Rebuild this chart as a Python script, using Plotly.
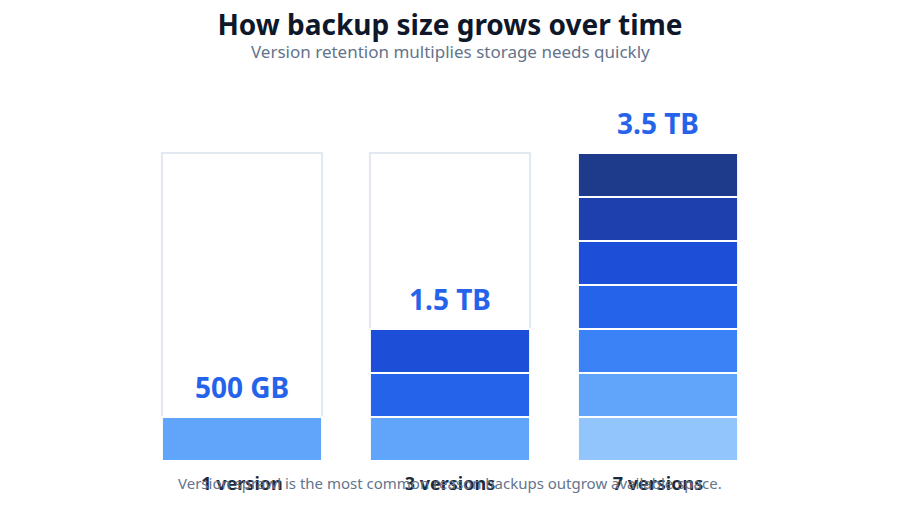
import plotly.graph_objects as go

categories = ["1 version", "3 versions", "7 versions"]
version_counts = [1, 3, 7]
segment_size_gb = 500
capacity_gb = 3500
value_labels = ["500 GB", "1.5 TB", "3.5 TB"]
segment_colors = [
    ["#60a5fa"],
    ["#60a5fa", "#2563eb", "#1d4ed8"],
    ["#93c5fd", "#60a5fa", "#3b82f6", "#2563eb", "#1d4ed8", "#1e40af", "#1e3a8a"],
]

FONT = "Noto Sans"
fig = go.Figure()

# container outlines
fig.add_trace(go.Bar(
    x=categories, y=[capacity_gb] * len(categories), base=0,
    marker=dict(color="white", line=dict(color="#e2e8f0", width=2)),
    width=0.77, hoverinfo="skip", showlegend=False,
))

max_levels = max(version_counts)
for lvl in range(max_levels):
    xs, cols = [], []
    for cat, n, cl in zip(categories, version_counts, segment_colors):
        if lvl < n:
            xs.append(cat)
            cols.append(cl[lvl])
    fig.add_trace(go.Bar(
        x=xs, y=[segment_size_gb] * len(xs), base=[lvl * segment_size_gb] * len(xs),
        marker=dict(color=cols, line=dict(color="white", width=2)),
        width=0.77, showlegend=False,
    ))

annotations = []
for cat, n, lab in zip(categories, version_counts, value_labels):
    annotations.append(dict(
        x=cat, y=n * segment_size_gb, xref="x", yref="y", text=f"<b>{lab}</b>",
        showarrow=False, yanchor="bottom", yshift=9,
        font=dict(family=FONT, size=28, color="#2563eb"),
    ))
annotations.append(dict(
    x=0.5, y=1.162, xref="paper", yref="paper", showarrow=False,
    text="Version retention multiplies storage needs quickly",
    font=dict(family=FONT, size=17, color="#64748b"), yanchor="middle",
))
annotations.append(dict(
    x=0.5, y=-0.0625, xref="paper", yref="paper", showarrow=False,
    text="Version sprawl is the most common reason backups outgrow available space.",
    font=dict(family=FONT, size=15, color="#64748b"), yanchor="middle",
))

fig.update_layout(
    width=900, height=506,
    margin=dict(l=138, r=138, t=109, b=45),
    barmode="overlay",
    bargap=0.23,
    plot_bgcolor="white", paper_bgcolor="white",
    title=dict(text="<b>How backup size grows over time</b>", x=0.5, xanchor="center",
               y=1 - 25 / 506, yanchor="middle", yref="container",
               font=dict(family=FONT, size=28, color="#0f172a")),
    xaxis=dict(showgrid=False, zeroline=False, showline=False, ticks="",
               tickfont=dict(family=FONT, size=18, color="#1e293b", weight="bold"),
               ticklabelstandoff=10, automargin=False,
               range=[-0.5, 2.5]),
    yaxis=dict(visible=False, range=[0, 4000], automargin=False),
    annotations=annotations,
)

fig.write_html("out.html")
